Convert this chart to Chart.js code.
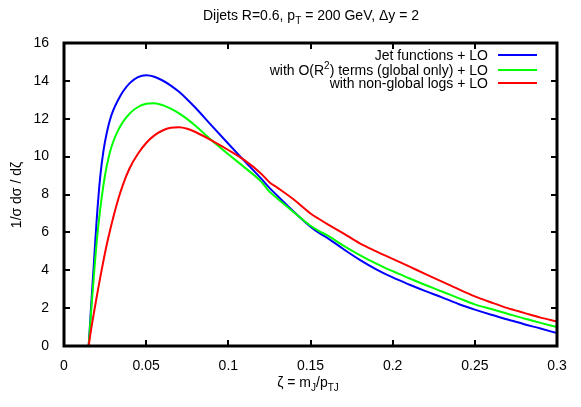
<!DOCTYPE html>
<html>
<head>
<meta charset="utf-8">
<script src="https://cdn.jsdelivr.net/npm/chart.js@4"></script>
<style>
    html, body { margin: 0; padding: 0; background: #fff; }
</style>
</head>
<body>
<canvas id="jetChart" width="581" height="407"></canvas>
<script>
// ── Data ──────────────────────────────────────────────────────────────

const zeta = [0.015, 0.016, 0.017, 0.018, 0.019, 0.02, 0.022, 0.024, 0.026, 0.028,
              0.03, 0.033, 0.036, 0.04, 0.045, 0.05, 0.055, 0.06, 0.065, 0.07,
              0.075, 0.08, 0.09, 0.1, 0.11, 0.12, 0.125, 0.13, 0.14, 0.15,
              0.155, 0.16, 0.17, 0.18, 0.19, 0.2, 0.21, 0.22, 0.23, 0.24,
              0.25, 0.26, 0.27, 0.28, 0.29, 0.3];

const jetFunctions = [0, 1.4, 2.8, 4.1, 5.5, 6.8, 8.9, 10.3, 11.25, 11.95,
                      12.45, 13.0, 13.45, 13.88, 14.2, 14.3, 14.22, 14.02, 13.75, 13.42,
                      13.02, 12.58, 11.62, 10.68, 9.75, 8.84, 8.35, 7.92, 7.08, 6.3,
                      5.98, 5.72, 5.12, 4.55, 4.05, 3.62, 3.25, 2.9, 2.57, 2.22,
                      1.92, 1.65, 1.4, 1.15, 0.92, 0.68];

const globalOnly = [0, 1.2, 2.4, 3.5, 4.6, 5.6, 7.2, 8.5, 9.5, 10.25,
                    10.8, 11.4, 11.85, 12.28, 12.62, 12.79, 12.82, 12.72, 12.53, 12.28,
                    11.98, 11.63, 10.85, 10.12, 9.42, 8.68, 8.15, 7.78, 7.05, 6.35,
                    6.08, 5.85, 5.3, 4.8, 4.35, 3.95, 3.58, 3.22, 2.88, 2.53,
                    2.2, 1.95, 1.7, 1.45, 1.22, 1.0];

const nonGlobal = [0, 0.6, 1.15, 1.65, 2.15, 2.65, 3.6, 4.5, 5.35, 6.1,
                   6.8, 7.75, 8.55, 9.4, 10.15, 10.72, 11.12, 11.38, 11.52, 11.55,
                   11.47, 11.3, 10.85, 10.35, 9.8, 9.1, 8.65, 8.35, 7.72, 7.0,
                   6.72, 6.45, 5.95, 5.42, 5.0, 4.6, 4.2, 3.8, 3.4, 3.0,
                   2.62, 2.3, 2.0, 1.75, 1.5, 1.3];

const xTicks = [0, 0.05, 0.1, 0.15, 0.2, 0.25, 0.3];
const yTicks = [0, 2, 4, 6, 8, 10, 12, 14, 16];

const FONT = '"Liberation Sans", Arial, Helvetica, sans-serif';
const FS   = 14;

const series = [
    { label: [['Jet functions + LO']], data: jetFunctions, color: '#0000ff' },
    { label: [['with O(R'], ['2', 'sup'], [') terms (global only) + LO']], data: globalOnly, color: '#00ff00' },
    { label: [['with non-global logs + LO']], data: nonGlobal, color: '#ff0000' },
];

// ── Rich text (sub/superscripts) ──────────────────────────────────────

function segFont(kind) {
    return (kind ? Math.round(FS * 0.72) : FS) + 'px ' + FONT;
}

function richWidth(ctx, segs) {
    return segs.reduce((w, s) => { ctx.font = segFont(s[1]); return w + ctx.measureText(s[0]).width; }, 0);
}

function drawRich(ctx, segs, x, y, align) {
    let cx = x;
    const w = richWidth(ctx, segs);
    if (align === 'center') cx = x - w / 2;
    if (align === 'right')  cx = x - w;
    ctx.textAlign = 'left';
    ctx.textBaseline = 'alphabetic';
    segs.forEach(s => {
        ctx.font = segFont(s[1]);
        const dy = s[1] === 'sub' ? FS * 0.3 : s[1] === 'sup' ? -FS * 0.42 : 0;
        ctx.fillText(s[0], cx, y + dy);
        cx += ctx.measureText(s[0]).width;
    });
}

// ── Frame, inward ticks, title, labels, legend ────────────────────────

const decorPlugin = {
    id: 'decor',
    afterDatasetsDraw(chart) {
        const { ctx, chartArea: a, scales } = chart;
        const xs = scales.x, ys = scales.y;
        ctx.save();
        ctx.strokeStyle = '#000';
        ctx.lineWidth = 2;
        ctx.beginPath();
        xTicks.forEach(v => {
            const px = Math.round(xs.getPixelForValue(v));
            ctx.moveTo(px, a.bottom); ctx.lineTo(px, a.bottom - 6);
            ctx.moveTo(px, a.top);    ctx.lineTo(px, a.top + 6);
        });
        yTicks.forEach(v => {
            const py = Math.round(ys.getPixelForValue(v));
            ctx.moveTo(a.left, py);  ctx.lineTo(a.left + 6, py);
            ctx.moveTo(a.right, py); ctx.lineTo(a.right - 6, py);
        });
        ctx.stroke();
        ctx.lineWidth = 3;
        ctx.strokeRect(a.left, a.top, a.right - a.left, a.bottom - a.top);

        ctx.fillStyle = '#000';
        drawRich(ctx, [['Dijets R=0.6, p'], ['T', 'sub'], [' = 200 GeV, Δy = 2']], 311, 20, 'center');
        drawRich(ctx, [['ζ = m'], ['J', 'sub'], ['/p'], ['TJ', 'sub']], 308, 387, 'center');

        ctx.save();
        ctx.translate(21, 195);
        ctx.rotate(-Math.PI / 2);
        drawRich(ctx, [['1/σ dσ / dζ']], 0, 0, 'center');
        ctx.restore();

        const rows = [55, 70, 83];
        series.forEach((s, i) => {
            ctx.fillStyle = '#000';
            drawRich(ctx, s.label, 488, rows[i] + 5, 'right');
            ctx.strokeStyle = s.color;
            ctx.lineWidth = 2;
            ctx.beginPath();
            ctx.moveTo(498, rows[i]); ctx.lineTo(537, rows[i]);
            ctx.stroke();
        });
        ctx.restore();
    },
};

// ── Chart ─────────────────────────────────────────────────────────────

new Chart(document.getElementById('jetChart'), {
    type: 'line',
    data: {
        datasets: series.map((s, i) => ({
            data: zeta.map((z, k) => ({ x: z, y: s.data[k] })),
            borderColor: s.color,
            borderWidth: 2,
            pointRadius: 0,
            cubicInterpolationMode: 'monotone',
            fill: false,
            order: 3 - i,
        })),
    },
    options: {
        responsive: false,
        devicePixelRatio: 1,
        animation: false,
        layout: { padding: { top: 43, right: 24, left: 0, bottom: 0 } },
        plugins: { legend: { display: false }, tooltip: { enabled: false } },
        scales: {
            x: {
                type: 'linear', min: 0, max: 0.3,
                afterBuildTicks: sc => { sc.ticks = xTicks.map(v => ({ value: v })); },
                afterFit: sc => { sc.height = 61; },
                grid: { display: false },
                border: { display: false },
                ticks: { color: '#000', padding: 4, maxRotation: 0, font: { family: FONT, size: FS },
                         callback: v => String(+v.toFixed(2)) },
            },
            y: {
                type: 'linear', min: 0, max: 16,
                afterBuildTicks: sc => { sc.ticks = yTicks.map(v => ({ value: v })); },
                afterFit: sc => { sc.width = 64; },
                grid: { display: false },
                border: { display: false },
                ticks: { color: '#000', padding: 7, font: { family: FONT, size: FS } },
            },
        },
    },
    plugins: [decorPlugin],
});
</script>
</body>
</html>
